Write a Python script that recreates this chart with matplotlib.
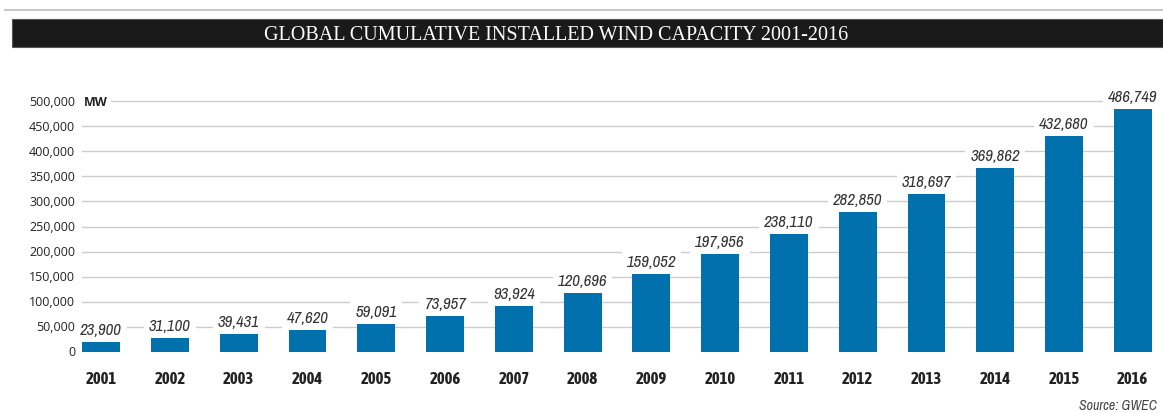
import matplotlib
matplotlib.use("Agg")
import matplotlib.pyplot as plt
from matplotlib import font_manager as fm

years = ["2001", "2002", "2003", "2004", "2005", "2006", "2007", "2008",
         "2009", "2010", "2011", "2012", "2013", "2014", "2015", "2016"]
capacity = [23900, 31100, 39431, 47620, 59091, 73957, 93924, 120696,
            159052, 197956, 238110, 282850, 318697, 369862, 432680, 486749]
ytick_values = [0, 50000, 100000, 150000, 200000, 250000, 300000, 350000, 400000, 450000, 500000]
title = "GLOBAL CUMULATIVE INSTALLED WIND CAPACITY 2001-2016"
source = "Source: GWEC"

fonts = fm.fontManager.ttflist
names = sorted({f.name for f in fonts})
narrow = [n for n in names if ("Narrow" in n or "Condensed" in n)]
cond = narrow[0] if narrow else "Roboto"
bold_narrow = [n for n in narrow
               if any(f.name == n and (f.weight in ("bold", 700) or (isinstance(f.weight, int) and f.weight >= 700))
                      for f in fonts)]
yr_font = bold_narrow[0] if bold_narrow else "Roboto"
reg = "Open Sans" if "Open Sans" in names else "DejaVu Sans"

W, H = 1163, 414
fig = plt.figure(figsize=(W / 100, H / 100), dpi=100)
fig.patch.set_facecolor("white")

# top thin line and title band
fig.add_artist(plt.Line2D([5 / W, 1], [1 - 11 / H, 1 - 11 / H], color="#c8c8c8", lw=1.5))
fig.add_artist(plt.Rectangle((12 / W, 1 - 48 / H), 1 - 12 / W, 28 / H,
                             facecolor="#1a1a1a", edgecolor="#555555", lw=0.8))
fig.text(556 / W, 1 - 35 / H, title, color="white", fontsize=14.5,
         family="Liberation Serif", ha="center", va="center")

left, right = 82, 1152
bottom, top = 353, 97
ax = fig.add_axes([left / W, 1 - bottom / H, (right - left) / W, (bottom - top) / H])
ax.set_xlim(-0.28, 15.28)
ax.set_ylim(0, 510000)
for s in ax.spines.values():
    s.set_visible(False)
ax.set_xticks([])
ax.set_yticks([])

x = list(range(len(years)))
for v in ytick_values[1:]:
    ax.axhline(v, color="#cccccc", lw=1.0, zorder=0)
ax.bar(x, capacity, width=0.55, color="#0071ad", zorder=2)

lab_size = 12 if narrow else 9.8
for xi, v in zip(x, capacity):
    ax.annotate(f"{v:,}", (xi, v), xytext=(0, 2.5), textcoords="offset points",
                ha="center", va="bottom", fontsize=lab_size, style="italic",
                family=cond, color="#333333", zorder=3,
                bbox=dict(boxstyle="square,pad=0.3", fc="white", ec="none"))

for v in ytick_values:
    ax.text(-0.38, v, f"{v:,}", transform=ax.transData, ha="right", va="center",
            fontsize=9, family=reg, color="#222222")
ax.text(-0.26, 500000, "MW", ha="left", va="center", fontsize=9, family=reg,
        fontweight="bold", color="#222222", zorder=3,
        bbox=dict(boxstyle="square,pad=0.3", fc="white", ec="none"))

yr_size = 12 if bold_narrow else 10
for xi, yr in zip(x, years):
    ax.text(xi, -35000, yr, ha="center", va="top", fontsize=yr_size, family=yr_font,
            fontweight="bold", color="#222222")

fig.text(1157 / W, 1 - 406 / H, source, ha="right", va="center", fontsize=10,
         style="italic", family=cond, color="#444444")

fig.savefig("out.png", dpi=100)
